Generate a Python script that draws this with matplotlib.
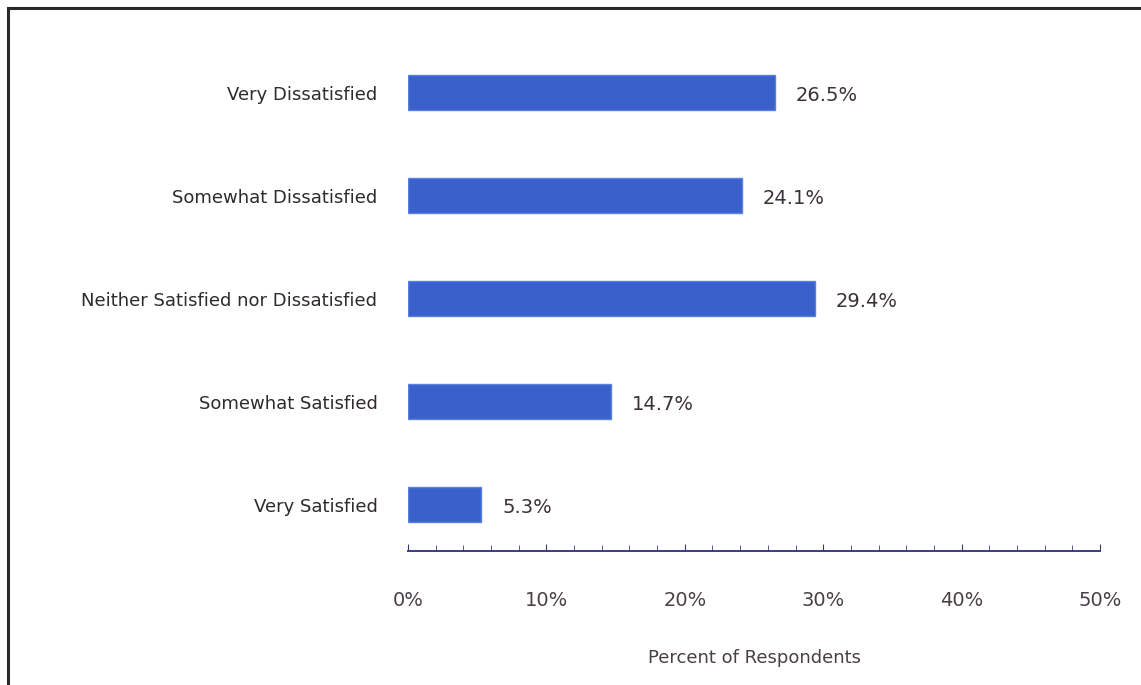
import matplotlib
matplotlib.use("Agg")
import matplotlib.pyplot as plt
from matplotlib.patches import Rectangle
import numpy as np

categories = ["Very Satisfied", "Somewhat Satisfied",
              "Neither Satisfied nor Dissatisfied",
              "Somewhat Dissatisfied", "Very Dissatisfied"]
values = [5.3, 14.7, 29.4, 24.1, 26.5]
value_labels = ["5.3%", "14.7%", "29.4%", "24.1%", "26.5%"]
xtick_labels = ["0%", "10%", "20%", "30%", "40%", "50%"]
xlabel = "Percent of Respondents"

W, H = 1141, 685
fig = plt.figure(figsize=(W / 100, H / 100), dpi=100)
fig.patch.set_facecolor("white")

# outer frame
fig.patches.append(Rectangle((8 / W, -0.05), 1.2, 1 - 8 / H + 0.05,
                             transform=fig.transFigure, fill=False,
                             edgecolor="#2a2a2a", linewidth=2.2))

ax = fig.add_axes([408 / W, 1 - 551 / H, (1100 - 408) / W, (551 - 41) / H])
y = np.arange(len(categories))
ax.barh(y, values, height=0.34, color="#3a60cc",
        edgecolor="#5a80e0", linewidth=1.0, zorder=2)

ax.set_xlim(0, 50)
ax.set_ylim(-0.45, 4.5)
for s in ["top", "right", "left"]:
    ax.spines[s].set_visible(False)
ax.spines["bottom"].set_color("#3a3a8a")
ax.spines["bottom"].set_linewidth(1.4)

ax.set_xticks(np.arange(0, 51, 10))
ax.set_xticklabels(xtick_labels, fontsize=14, color="#4a3f47")
ax.set_xticks(np.arange(0, 51, 2), minor=True)
ax.tick_params(axis="x", which="both", direction="in", length=5,
               color="#3a3a6a", pad=40)
ax.tick_params(axis="x", which="major", pad=29)
ax.tick_params(axis="x", which="minor", length=4)
ax.set_yticks(y)
ax.set_yticklabels(categories, fontsize=13, color="#2e2a2e")
ax.tick_params(axis="y", length=0, pad=22)

ax.set_xlabel(xlabel, fontsize=13, color="#4a3f47", labelpad=28)

for yi, v, lab in zip(y, values, value_labels):
    ax.annotate(lab, (v, yi), xytext=(15, -2), textcoords="offset points",
                va="center", ha="left", fontsize=14, color="#3a3238")

fig.savefig("out.png", dpi=100, facecolor="white")
